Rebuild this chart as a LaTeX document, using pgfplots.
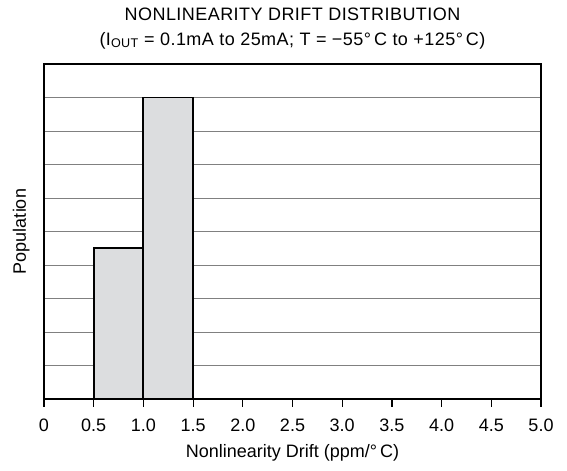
\documentclass[border=0pt]{standalone}
\usepackage{fontspec}
\setmainfont{Liberation Sans}
\newfontfamily\titlefont{Liberation Sans}[LetterSpace=2.5]
\usepackage{pgfplots}
\pgfplotsset{compat=1.18}
\definecolor{barfill}{RGB}{220,221,223}
\definecolor{gridgray}{RGB}{128,128,128}

\begin{document}
\fontsize{18bp}{22bp}\selectfont
\begin{tikzpicture}
\useasboundingbox (0,0) rectangle (567bp,471bp);
\begin{axis}[
    at={(44bp,72bp)}, anchor=south west,
    scale only axis,
    width=497bp, height=335bp,
    xmin=0, xmax=5, ymin=0, ymax=10,
    xtick={0,0.5,...,5},
    xticklabels={0,0.5,1.0,1.5,2.0,2.5,3.0,3.5,4.0,4.5,5.0},
    xtick pos=bottom,
    ytick={1,...,9}, yticklabels={},
    ytick style={draw=none},
    xtick align=outside,
    x tick style={black, line width=1.2pt},
    major tick length=8bp,
    axis line style={line width=1.8pt},
    ymajorgrids,
    grid style={gridgray, line width=0.9pt},
    tick label style={/pgf/number format/assume math mode=true},
    xticklabel style={anchor=north, inner sep=0pt, text height=13bp, text depth=0pt, yshift=-11bp},
    title={\titlefont NONLINEARITY DRIFT DISTRIBUTION\\[3bp]\titlefont(I\textsubscript{OUT} = 0.1mA to 25mA; T = −55°\,C to +125°\,C)},
    title style={at={(axis description cs:0.5,1)}, anchor=south, align=center, yshift=3bp},
    xlabel={Nonlinearity Drift (ppm/°\,C)},
    xlabel style={at={(axis description cs:0.5,0)}, anchor=base, yshift=-58bp},
    clip=false,
]
\addplot[ybar interval, fill=barfill, draw=black, line width=2pt]
    coordinates {(0.5,4.5) (1.0,9) (1.5,0)};
\node[rotate=90, anchor=base, inner sep=0pt] at ([xshift=-18bp]axis description cs:0,0.5) {Population};
\end{axis}
\end{tikzpicture}
\end{document}
